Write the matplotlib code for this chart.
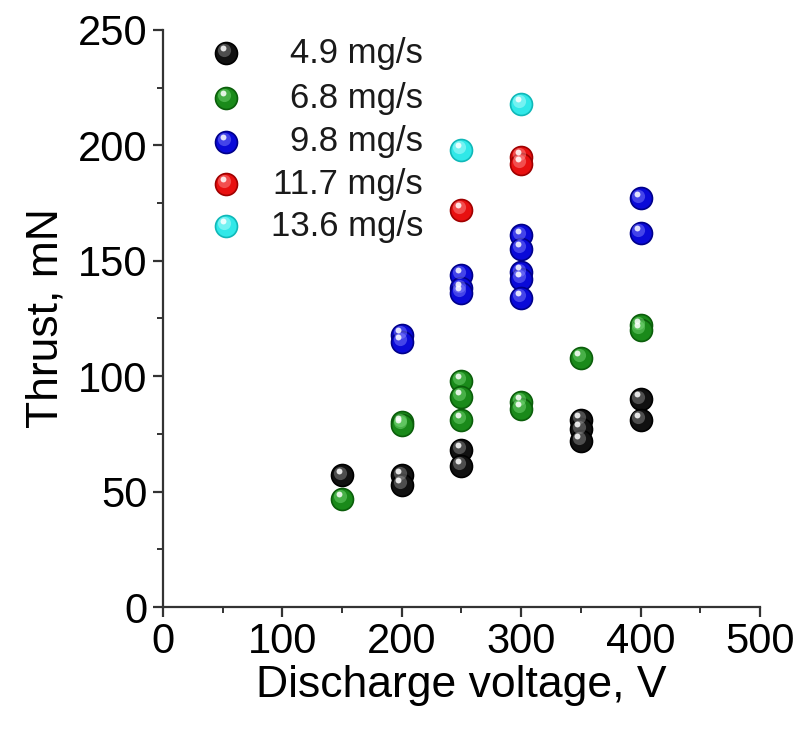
import matplotlib
matplotlib.use("Agg")
import matplotlib.pyplot as plt
from matplotlib.transforms import offset_copy
from matplotlib.ticker import MultipleLocator

plt.rcParams["font.family"] = ["Liberation Sans", "DejaVu Sans"]

# thrust (mN) vs discharge voltage (V) for each anode mass flow rate
v_49 = [150, 200, 200, 250, 250, 350, 350, 350, 400, 400]
t_49 = [57, 57, 53, 68, 61, 81, 77, 72, 90, 81]

v_68 = [150, 200, 200, 250, 250, 250, 300, 300, 350, 400, 400]
t_68 = [47, 80, 79, 98, 91, 81, 89, 86, 108, 122, 120]

v_98 = [200, 200, 250, 250, 250, 300, 300, 300, 300, 300, 400, 400]
t_98 = [118, 115, 144, 138, 136, 161, 155, 145, 142, 134, 177, 162]

v_117 = [250, 300, 300]
t_117 = [172, 195, 192]

v_136 = [250, 300]
t_136 = [198, 218]

labels = ["4.9 mg/s", "6.8 mg/s", "9.8 mg/s", "11.7 mg/s", "13.6 mg/s"]

# (edge, body, highlight) colours for the shaded balls
palette = [
    ("#000000", "#111111", "#9a9a9a"),
    ("#0b5e0b", "#1a8a1a", "#7fe07f"),
    ("#00008a", "#0a0ad8", "#8c8cff"),
    ("#a00000", "#e81010", "#ff9a9a"),
    ("#10b8b8", "#30e8e8", "#c8ffff"),
]

fig = plt.figure(figsize=(8.05, 7.31), dpi=100)
ax = fig.add_axes([0.2025, 0.1696, 0.7415, 0.7894])


def ball(x, y, cols, transform):
    edge, body, hi = cols
    ax.scatter(x, y, s=250, color=body, edgecolors=edge, linewidths=1.2,
               transform=transform, zorder=3, clip_on=False)
    t1 = offset_copy(transform, fig=fig, x=-1.5, y=2.0, units="points")
    ax.scatter(x, y, s=90, color=hi, alpha=0.45, linewidths=0,
               transform=t1, zorder=4, clip_on=False)
    t2 = offset_copy(transform, fig=fig, x=-2.5, y=3.5, units="points")
    ax.scatter(x, y, s=18, color="white", alpha=0.85, linewidths=0,
               transform=t2, zorder=5, clip_on=False)


series = [(v_49, t_49), (v_68, t_68), (v_98, t_98), (v_117, t_117), (v_136, t_136)]
for (v, t), cols in zip(series, palette):
    ball(v, t, cols, ax.transData)

# legend drawn by hand so the markers keep their shading
leg_y = [0.960, 0.882, 0.806, 0.733, 0.660]
for yy, lab, cols in zip(leg_y, labels, palette):
    ball([0.1055], [yy], cols, ax.transAxes)
    ax.text(0.4355, yy, lab, transform=ax.transAxes, ha="right", va="center",
            fontsize=25, color="#1a1a1a")

ax.set_xlim(0, 500)
ax.set_ylim(0, 250)
ax.xaxis.set_major_locator(MultipleLocator(100))
ax.xaxis.set_minor_locator(MultipleLocator(50))
ax.yaxis.set_major_locator(MultipleLocator(50))
ax.yaxis.set_minor_locator(MultipleLocator(25))

for s in ["top", "right"]:
    ax.spines[s].set_visible(False)
for s in ["left", "bottom"]:
    ax.spines[s].set_color("#333333")
    ax.spines[s].set_linewidth(1.6)

ax.tick_params(which="major", direction="out", length=7, width=1.6,
               color="#333333", labelsize=30, pad=4)
ax.tick_params(which="minor", direction="out", length=4, width=1.4, color="#333333")

ax.set_xlabel("Discharge voltage, V", fontsize=32, labelpad=2)
ax.set_ylabel("Thrust, mN", fontsize=32, labelpad=8)

fig.savefig("out.png", dpi=100)
